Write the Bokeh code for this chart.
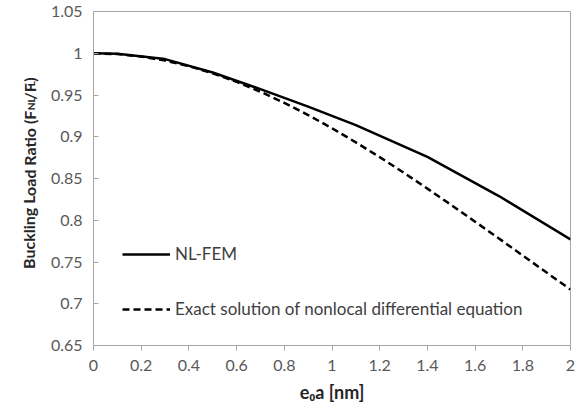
from bokeh.plotting import figure
from bokeh.layouts import row
from bokeh.models import Range1d, FixedTicker, Legend, LegendItem
from bokeh.core.properties import value
from bokeh.embed import file_html
from bokeh.resources import INLINE

# Nonlocal length parameter e0a [nm]
fem_x = [0.0, 0.1, 0.3, 0.5, 0.7, 0.9, 1.1, 1.4, 1.7, 2.0]
fem_ratio = [1.0, 0.9995, 0.993, 0.977, 0.957, 0.936, 0.914, 0.876, 0.829, 0.777]

exact_x = [0.0, 0.1, 0.2, 0.3, 0.4, 0.5, 0.6, 0.7, 0.8, 0.9, 1.0,
           1.1, 1.2, 1.3, 1.4, 1.5, 1.6, 1.7, 1.8, 1.9, 2.0]
exact_ratio = [1.0, 0.9990, 0.9961, 0.9912, 0.9845, 0.9759, 0.9657, 0.9539,
               0.9406, 0.9260, 0.9102, 0.8933, 0.8756, 0.8571, 0.8379, 0.8183,
               0.7983, 0.7781, 0.7577, 0.7373, 0.7170]

x_ticks = [0, 0.2, 0.4, 0.6, 0.8, 1.0, 1.2, 1.4, 1.6, 1.8, 2.0]
x_tick_labels = ["0", "0.2", "0.4", "0.6", "0.8", "1", "1.2", "1.4", "1.6", "1.8", "2"]
y_ticks = [0.65, 0.7, 0.75, 0.8, 0.85, 0.9, 0.95, 1.0, 1.05]
y_tick_labels = ["0.65", "0.7", "0.75", "0.8", "0.85", "0.9", "0.95", "1", "1.05"]

# pieces of the y-axis title: text, baseline x, start/end y, alignment, size
title_text = ["Buckling Load Ratio (F", "NL", "/F", "L", ")"]
title_base_x = [28.5, 30.5, 28.5, 30.5, 28.5]
title_y = [122, 121.5, 108.5, 92, 86.5]
title_align = ["right", "left", "left", "left", "left"]
title_size = ["16px", "10px", "16px", "10px", "16px"]

FONT = "Lato"
GRID_GREY = "#a6a6a6"
TEXT_GREY = "#595959"
TITLE_COLOR = "#262626"
W, H = 579, 411
STRIP_W = 40          # narrow strip holding the rotated y title
FRAME_LEFT = 93       # left edge of the plotting frame on the page
FRAME_BOTTOM = 345

# ---- strip with the y-axis title (coordinates in page pixels) ----
t = figure(width=STRIP_W, height=H, output_backend="svg", toolbar_location=None,
           x_range=Range1d(0, STRIP_W), y_range=Range1d(H, 0),
           min_border=0, x_axis_type=None, y_axis_type=None)
t.outline_line_color = None
t.grid.visible = False
t.background_fill_color = "white"
t.border_fill_color = "white"
for txt, bx, by, align, size in zip(title_text, title_base_x, title_y,
                                    title_align, title_size):
    t.text(x=[bx], y=[by], text=[txt], angle=1.5707963,
           text_align=align, text_baseline="alphabetic",
           text_font=value(FONT), text_font_size=size,
           text_font_style="bold", text_color=TITLE_COLOR)

# ---- main chart ----
p = figure(width=W - STRIP_W, height=H, output_backend="svg", toolbar_location=None,
           x_range=Range1d(0, 2), y_range=Range1d(0.65, 1.05),
           min_border_left=FRAME_LEFT - STRIP_W, min_border_right=9,
           min_border_top=11, min_border_bottom=H - FRAME_BOTTOM)
p.background_fill_color = "white"
p.border_fill_color = "white"
p.outline_line_color = GRID_GREY
p.outline_line_width = 1
p.grid.visible = False

xa = p.xaxis[0]
xa.ticker = FixedTicker(ticks=x_ticks)
xa.major_label_overrides = {tk: s for tk, s in zip(x_ticks, x_tick_labels)}
xa.major_tick_in = 0
xa.major_tick_out = 5
xa.minor_tick_line_color = None
xa.axis_line_color = GRID_GREY
xa.major_tick_line_color = GRID_GREY
xa.major_label_text_font = FONT
xa.major_label_text_font_size = "16px"
xa.major_label_text_color = TEXT_GREY
xa.major_label_standoff = 9
xa.axis_label = "e\u2080a [nm]"
xa.axis_label_text_font = FONT
xa.axis_label_text_font_size = "18px"
xa.axis_label_text_font_style = "bold"
xa.axis_label_text_color = TITLE_COLOR
xa.axis_label_standoff = 7

ya = p.yaxis[0]
ya.ticker = FixedTicker(ticks=y_ticks)
ya.major_label_overrides = {tk: s for tk, s in zip(y_ticks, y_tick_labels)}
ya.major_tick_in = 5
ya.major_tick_out = 0
ya.minor_tick_line_color = None
ya.axis_line_color = GRID_GREY
ya.major_tick_line_color = GRID_GREY
ya.major_label_text_font = FONT
ya.major_label_text_font_size = "16px"
ya.major_label_text_color = TEXT_GREY
ya.major_label_standoff = 11

r_fem = p.line(fem_x, fem_ratio, line_color="black", line_width=2.5)
r_exact = p.line(exact_x, exact_ratio, line_color="black", line_width=2.5,
                 line_dash="7 4")

legend = Legend(items=[LegendItem(label="NL-FEM", renderers=[r_fem]),
                       LegendItem(label="Exact solution of nonlocal differential equation",
                                  renderers=[r_exact])],
                location=(29, 26), orientation="vertical",
                glyph_width=48, glyph_height=20, label_height=20,
                label_standoff=5, spacing=34, padding=0, margin=0,
                background_fill_alpha=0, border_line_alpha=0,
                label_text_font=FONT, label_text_font_size="17px",
                label_text_color="#404040")
p.add_layout(legend, "center")

layout = row(t, p, spacing=0)
open("out.html", "w").write(file_html(layout, INLINE))
